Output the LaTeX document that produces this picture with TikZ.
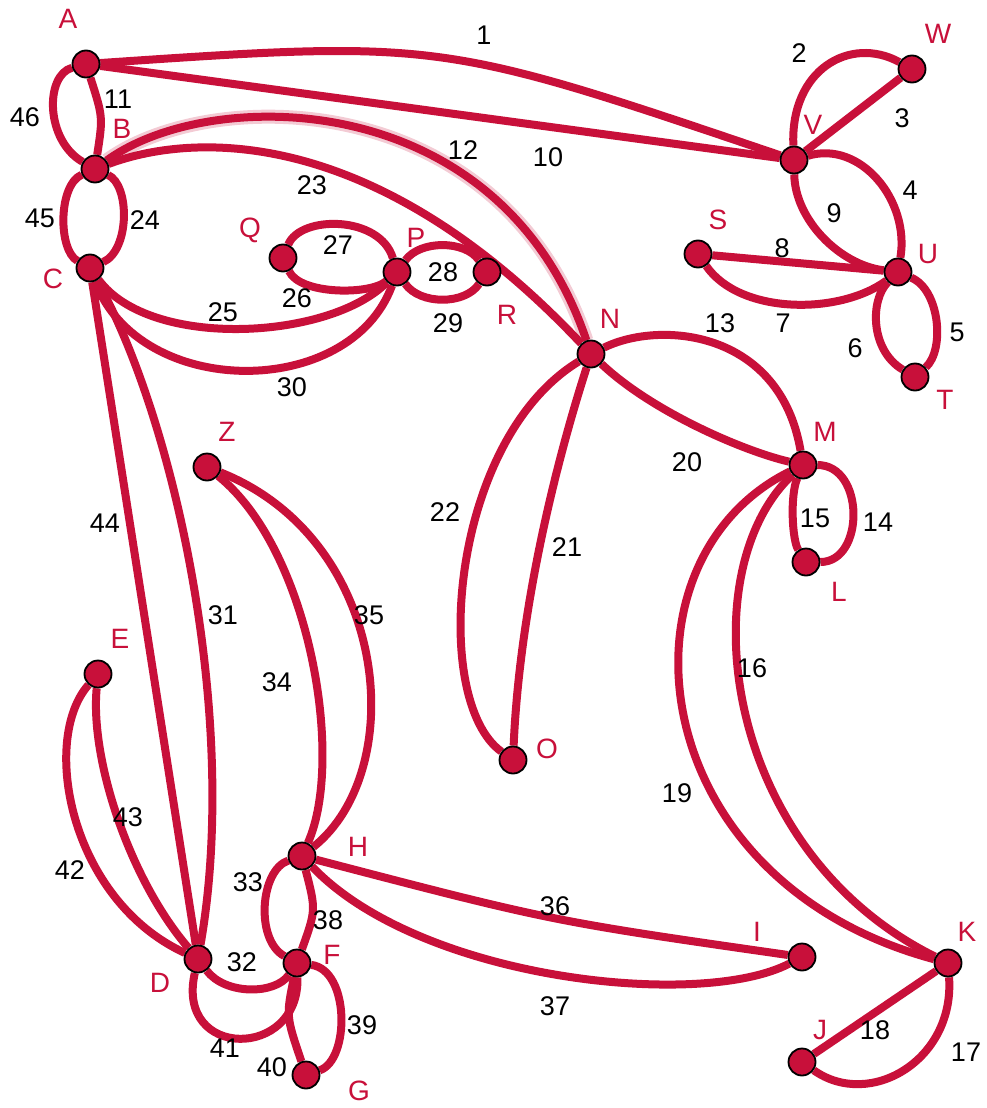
\documentclass[tikz,border=0pt]{standalone}
\usepackage{fontspec}
\setmainfont{Liberation Sans}
\usetikzlibrary{backgrounds}
\definecolor{crim}{RGB}{200,16,58}
\begin{document}
\begin{tikzpicture}[x=1pt,y=-1pt,
 vert/.style={circle,fill=crim,draw=black,line width=1.8pt,minimum size=27pt,inner sep=0pt},
 vlab/.style={text=crim,font=\fontsize{28}{28}\selectfont,inner sep=0pt},
 elab/.style={text=black,font=\fontsize{27}{27}\selectfont,inner sep=0pt},
 link/.style={draw=crim,line width=8pt},
 glow/.style={draw=crim,line width=14pt,opacity=0.22}]
\useasboundingbox (0,0) rectangle (987,1108);
% vertices
\node[vert] (A) at (86,64) {};
\node[vert] (B) at (95,169) {};
\node[vert] (C) at (90,268) {};
\node[vert] (Q) at (283,258) {};
\node[vert] (P) at (397,272) {};
\node[vert] (R) at (487,272) {};
\node[vert] (N) at (591,354) {};
\node[vert] (V) at (794,160) {};
\node[vert] (W) at (912,69) {};
\node[vert] (S) at (698,254) {};
\node[vert] (U) at (898,272) {};
\node[vert] (T) at (915,377) {};
\node[vert] (M) at (803,465) {};
\node[vert] (L) at (806,562) {};
\node[vert] (Z) at (207,467) {};
\node[vert] (E) at (98,674) {};
\node[vert] (O) at (513,760) {};
\node[vert] (H) at (302,856) {};
\node[vert] (D) at (198,959) {};
\node[vert] (F) at (297,963) {};
\node[vert] (G) at (306,1075) {};
\node[vert] (I) at (802,957) {};
\node[vert] (K) at (948,963) {};
\node[vert] (J) at (802,1062) {};
% vertex letters
\node[vlab] (tA) at (68,19) {A};
\node[vlab] (tB) at (122,129) {B};
\node[vlab] (tC) at (53,279) {C};
\node[vlab] (tQ) at (250,230) {Q};
\node[vlab] (tP) at (416,238) {P};
\node[vlab] (tR) at (507,315) {R};
\node[vlab] (tN) at (610,319) {N};
\node[vlab] (tV) at (813,125) {V};
\node[vlab] (tW) at (938,34) {W};
\node[vlab] (tS) at (718,220) {S};
\node[vlab] (tU) at (928,254) {U};
\node[vlab] (tT) at (945,400) {T};
\node[vlab] (tM) at (825,432) {M};
\node[vlab] (tL) at (839,592) {L};
\node[vlab] (tZ) at (227,432) {Z};
\node[vlab] (tE) at (120,639) {E};
\node[vlab] (tO) at (547,749) {O};
\node[vlab] (tH) at (358,847) {H};
\node[vlab] (tD) at (160,983) {D};
\node[vlab] (tF) at (332,955) {F};
\node[vlab] (tG) at (359,1091) {G};
\node[vlab] (tI) at (757,932) {I};
\node[vlab] (tK) at (967,932) {K};
\node[vlab] (tJ) at (820,1030) {J};
% edge numbers
\node[elab] (n1) at (484,35) {1};
\node[elab] (n2) at (799,53) {2};
\node[elab] (n3) at (902,118) {3};
\node[elab] (n4) at (910,190) {4};
\node[elab] (n5) at (957,332) {5};
\node[elab] (n6) at (855,348) {6};
\node[elab] (n7) at (783,323) {7};
\node[elab] (n8) at (782,248) {8};
\node[elab] (n9) at (834,213) {9};
\node[elab] (n10) at (548,157) {10};
\node[elab] (n11) at (118,99) {11};
\node[elab] (n12) at (463,150) {12};
\node[elab] (n13) at (720,323) {13};
\node[elab] (n14) at (878,522) {14};
\node[elab] (n15) at (815,518) {15};
\node[elab] (n16) at (752,668) {16};
\node[elab] (n17) at (966,1052) {17};
\node[elab] (n18) at (875,1030) {18};
\node[elab] (n19) at (677,793) {19};
\node[elab] (n20) at (687,462) {20};
\node[elab] (n21) at (567,547) {21};
\node[elab] (n22) at (445,512) {22};
\node[elab] (n23) at (312,185) {23};
\node[elab] (n24) at (145,220) {24};
\node[elab] (n25) at (223,312) {25};
\node[elab] (n26) at (297,298) {26};
\node[elab] (n27) at (338,245) {27};
\node[elab] (n28) at (443,272) {28};
\node[elab] (n29) at (448,323) {29};
\node[elab] (n30) at (292,387) {30};
\node[elab] (n31) at (223,615) {31};
\node[elab] (n32) at (242,962) {32};
\node[elab] (n33) at (248,882) {33};
\node[elab] (n34) at (277,682) {34};
\node[elab] (n35) at (369,615) {35};
\node[elab] (n36) at (555,906) {36};
\node[elab] (n37) at (555,1006) {37};
\node[elab] (n38) at (328,920) {38};
\node[elab] (n39) at (362,1025) {39};
\node[elab] (n40) at (272,1067) {40};
\node[elab] (n41) at (225,1048) {41};
\node[elab] (n42) at (70,870) {42};
\node[elab] (n43) at (128,817) {43};
\node[elab] (n44) at (105,523) {44};
\node[elab] (n45) at (40,218) {45};
\node[elab] (n46) at (25,117) {46};
\begin{pgfonlayer}{background}
\draw[glow] (B) .. controls (210,85) and (500,85) .. (N);
\draw[link] (A) .. controls (440,40) .. (V);
\draw[link] (A) -- (V);
\draw[link] (B) .. controls (210,85) and (500,85) .. (N);
\draw[link] (B) .. controls (200,130) and (380,130) .. (N);
\draw[link] (A) .. controls (103,117) .. (B);
\draw[link] (A) .. controls (45,75) and (45,140) .. (B);
\draw[link] (B) .. controls (58,185) and (58,250) .. (C);
\draw[link] (B) .. controls (130,185) and (130,250) .. (C);
\draw[link] (C) .. controls (150,350) and (330,340) .. (P);
\draw[link] (C) .. controls (140,400) and (350,400) .. (P);
\draw[link] (Q) .. controls (300,215) and (380,215) .. (P);
\draw[link] (Q) .. controls (300,295) and (370,295) .. (P);
\draw[link] (P) .. controls (420,240) and (465,240) .. (R);
\draw[link] (P) .. controls (420,305) and (465,305) .. (R);
\draw[link] (C) -- (D);
\draw[link] (C) .. controls (175,420) and (240,720) .. (D);
\draw[link] (E) .. controls (40,740) and (70,900) .. (D);
\draw[link] (E) .. controls (90,760) and (130,880) .. (D);
\draw[link] (Z) .. controls (310,550) and (345,760) .. (H);
\draw[link] (Z) .. controls (390,540) and (410,770) .. (H);
\draw[link] (H) .. controls (260,870) and (255,940) .. (F);
\draw[link] (H) .. controls (316,910) .. (F);
\draw[link] (D) .. controls (225,995) and (275,995) .. (F);
\draw[link] (D) .. controls (175,1060) and (300,1060) .. (F);
\draw[link] (F) .. controls (350,970) and (350,1060) .. (G);
\draw[link] (F) .. controls (286,1016) .. (G);
\draw[link] (H) .. controls (551,921) .. (I);
\draw[link] (H) .. controls (420,980) and (700,1010) .. (I);
\draw[link] (V) .. controls (790,70) and (850,35) .. (W);
\draw[link] (V) -- (W);
\draw[link] (V) .. controls (860,140) and (910,200) .. (U);
\draw[link] (V) .. controls (795,220) and (840,265) .. (U);
\draw[link] (S) -- (U);
\draw[link] (S) .. controls (740,315) and (840,315) .. (U);
\draw[link] (U) .. controls (940,290) and (945,350) .. (T);
\draw[link] (U) .. controls (870,300) and (870,350) .. (T);
\draw[link] (N) .. controls (660,320) and (780,330) .. (M);
\draw[link] (N) .. controls (650,410) and (740,450) .. (M);
\draw[link] (N) .. controls (560,450) and (520,600) .. (O);
\draw[link] (N) .. controls (450,440) and (430,700) .. (O);
\draw[link] (M) .. controls (865,465) and (865,562) .. (L);
\draw[link] (M) .. controls (790,495) and (792,540) .. (L);
\draw[link] (M) .. controls (690,570) and (720,850) .. (K);
\draw[link] (M) .. controls (610,560) and (640,880) .. (K);
\draw[link] (K) .. controls (955,1060) and (870,1110) .. (J);
\draw[link] (K) -- (J);
\end{pgfonlayer}
\end{tikzpicture}
\end{document}
